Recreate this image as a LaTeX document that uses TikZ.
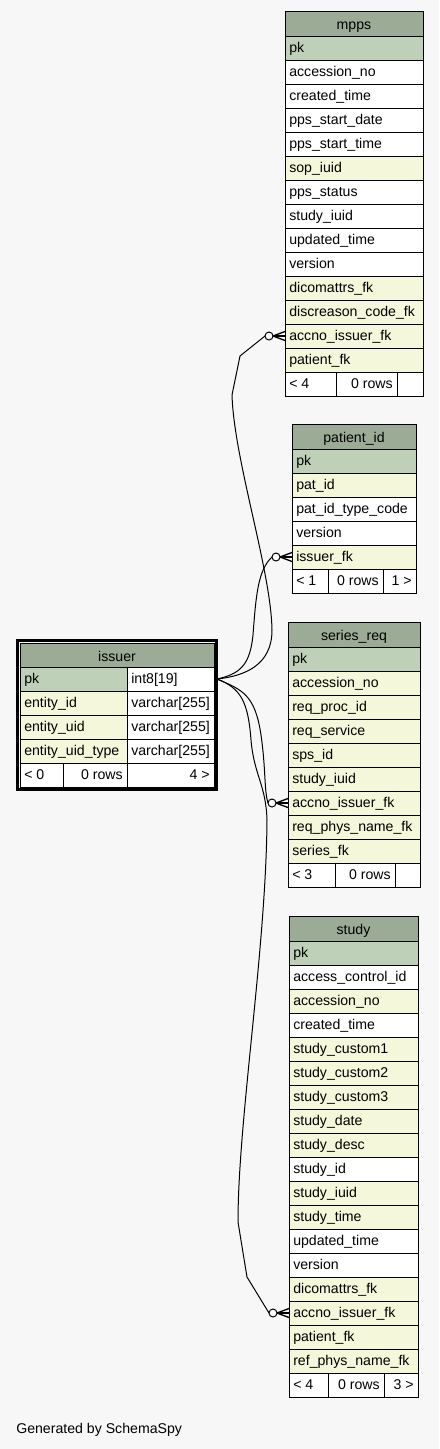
\documentclass[tikz,border=0pt]{standalone}
\usepackage{fontspec}
\setmainfont{Liberation Sans}
\usetikzlibrary{calc}
\definecolor{bgc}{HTML}{F7F7F7}
\definecolor{hdrc}{HTML}{9BAB96}
\definecolor{pkc}{HTML}{BED1B8}
\definecolor{fkc}{HTML}{F4F7DA}
\tikzset{
  cell/.style={draw=black, line width=0.75pt},
  txt/.style={inner sep=0pt, font=\fontsize{10.6}{12}\selectfont},
  conn/.style={draw=black, line width=0.75pt},
}
\newcommand\tablebox[6]{% id, X, Y, W, title, rows
  \fill[hdrc] (#2,#3) rectangle ++(#4,25);
  \draw[cell] (#2,#3) rectangle ++(#4,25);
  \node[txt,anchor=base] (#1-title) at ({#2+#4/2},{#3+18}) {#5};
  \foreach \rowtext/\rowcol [count=\i from 0] in {#6} {
    \draw[cell,fill=\rowcol] ({#2},{#3+25+\i*24}) rectangle ++(#4,24);
    \node[txt,anchor=base west] (#1-r\i) at ({#2+4},{#3+25+\i*24+16}) {\rowtext};
  }
}
\newcommand\tfoot[9]{% id, X, Yf, right, d1, d2, left, mid, right text
  \draw[cell,fill=white] (#2,#3) rectangle (#5,#3+24);
  \draw[cell,fill=white] (#5,#3) rectangle (#6,#3+24);
  \draw[cell,fill=white] (#6,#3) rectangle (#4,#3+24);
  \node[txt,anchor=base west] (#1-fl) at (#2+4,#3+16) {#7};
  \node[txt,anchor=base east] (#1-fm) at (#6-4,#3+16) {#8};
  \node[txt,anchor=base east] (#1-fr) at (#4-4,#3+16) {#9};
}
\newcommand\crowend[1]{%
  \draw[conn,fill=white] ($(#1)+(-16,0)$) circle[radius=3pt];
  \draw[line width=1pt] ($(#1)+(-12,0)$) -- ($(#1)+(0,-4.5)$);
  \draw[line width=1pt] ($(#1)+(-12,0)$) -- (#1);
  \draw[line width=1pt] ($(#1)+(-12,0)$) -- ($(#1)+(0,4.5)$);
}
\begin{document}
\begin{tikzpicture}[x=0.75pt,y=-0.75pt]
\fill[bgc] (0,0) rectangle (439,1449);

% mpps
\tablebox{mpps}{285}{11}{138}{mpps}{pk/pkc, accession\_no/white, created\_time/white, pps\_start\_date/white, pps\_start\_time/white, sop\_iuid/fkc, pps\_status/white, study\_iuid/white, updated\_time/white, version/white, dicomattrs\_fk/fkc, discreason\_code\_fk/fkc, accno\_issuer\_fk/fkc, patient\_fk/fkc}
\tfoot{mpps}{285}{372}{423}{336}{397}{< 4}{0 rows}{}

% patient_id
\tablebox{pat}{292}{424}{124}{patient\_id}{pk/pkc, pat\_id/fkc, pat\_id\_type\_code/white, version/white, issuer\_fk/fkc}
\tfoot{pat}{292}{569}{416}{328}{383}{< 1}{0 rows}{1 >}

% series_req
\tablebox{ser}{288}{622}{132}{series\_req}{pk/pkc, accession\_no/fkc, req\_proc\_id/fkc, req\_service/fkc, sps\_id/fkc, study\_iuid/fkc, accno\_issuer\_fk/fkc, req\_phys\_name\_fk/fkc, series\_fk/fkc}
\tfoot{ser}{288}{863}{420}{335}{395}{< 3}{0 rows}{}

% study
\tablebox{stu}{289}{916}{129}{study}{pk/pkc, access\_control\_id/white, accession\_no/fkc, created\_time/white, study\_custom1/fkc, study\_custom2/fkc, study\_custom3/fkc, study\_date/fkc, study\_desc/fkc, study\_id/white, study\_iuid/fkc, study\_time/fkc, updated\_time/white, version/white, dicomattrs\_fk/fkc, accno\_issuer\_fk/fkc, patient\_fk/fkc, ref\_phys\_name\_fk/fkc}
\tfoot{stu}{289}{1373}{418}{328}{384}{< 4}{0 rows}{3 >}

% issuer
\draw[line width=2.25pt] (17.5,640.5) rectangle (216.5,789.5);
\fill[hdrc] (20,643) rectangle (214,667);
\draw[cell] (20,643) rectangle (214,667);
\node[txt,anchor=base] (iss-title) at (117,661) {issuer};
\draw[cell,fill=pkc] (20,667) rectangle (127,691);
\draw[cell,fill=white] (127,667) rectangle (214,691);
\node[txt,anchor=base west] (iss-pk) at (24,683) {pk};
\node[txt,anchor=base west] (iss-pkt) at (131,683) {int8[19]};
\foreach \rowtext [count=\i from 1] in {entity\_id, entity\_uid, entity\_uid\_type} {
  \draw[cell,fill=fkc] (20,667+\i*24) rectangle (127,691+\i*24);
  \draw[cell,fill=white] (127,667+\i*24) rectangle (214,691+\i*24);
  \node[txt,anchor=base west] (iss-r\i) at (24,683+\i*24) {\rowtext};
  \node[txt,anchor=base west] (iss-t\i) at (131,683+\i*24) {varchar[255]};
}
\tfoot{iss}{20}{763}{214}{63}{127}{< 0}{0 rows}{4 >}

% connector anchors
\coordinate (issuer-pk) at (217,679);
\coordinate (mpps-fk) at (285,336);
\coordinate (pat-fk) at (292,557);
\coordinate (ser-fk) at (288,803);
\coordinate (stu-fk) at (289,1313);

% connectors
\draw[conn] (issuer-pk) .. controls (245,676) and (272,665) .. (272,630)
  .. controls (271,570) and (234,460) .. (232,395) -- (240,356) -- ($(mpps-fk)+(-20,0)$);
\draw[conn] (issuer-pk) .. controls (240,674) and (250,665) .. (253,635)
  .. controls (256,595) and (258,570) .. ($(pat-fk)+(-20,0)$);
\draw[conn] (issuer-pk) .. controls (243,690) and (255,695) .. (261,735)
  .. controls (266,770) and (264,790) .. ($(ser-fk)+(-20,0)$);
\draw[conn] (issuer-pk) .. controls (240,688) and (248,700) .. (251,740)
  .. controls (254,775) and (266,785) .. (267,820)
  .. controls (266,950) and (238,1120) .. (238,1222) -- (247,1277) -- ($(stu-fk)+(-20,0)$);

\crowend{mpps-fk}
\crowend{pat-fk}
\crowend{ser-fk}
\crowend{stu-fk}

\node[txt,anchor=base west] (gen) at (16,1433) {Generated by SchemaSpy};
\end{tikzpicture}
\end{document}
